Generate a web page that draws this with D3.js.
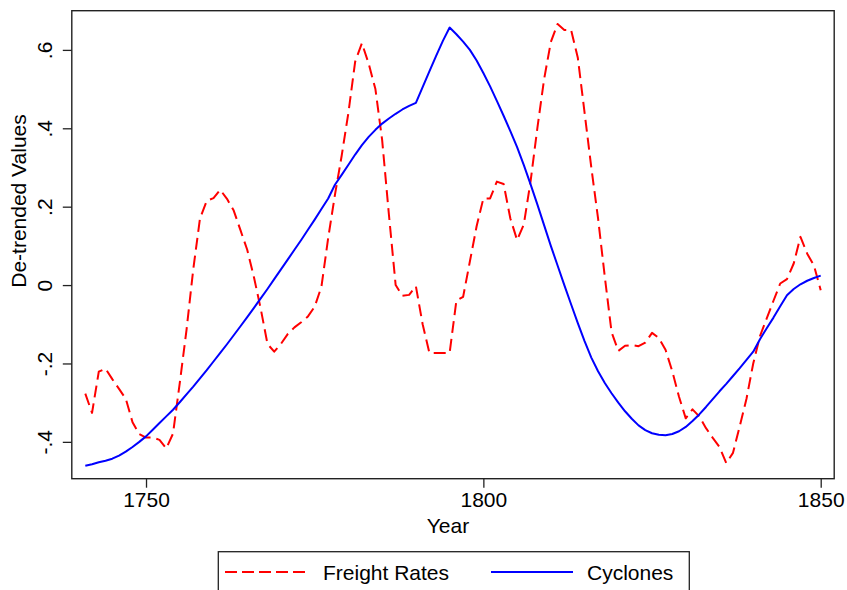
<!DOCTYPE html>
<html>
<head>
<meta charset="utf-8">
<script src="https://cdn.jsdelivr.net/npm/d3@7"></script>
<style>
  html, body { margin: 0; padding: 0; background: #fff; }
  svg { display: block; font-family: Arial, "Liberation Sans", sans-serif; }
</style>
</head>
<body>
<svg id="chart" width="847" height="590"></svg>
<script>
// Annual series, 1741..1850.
const YEARS = d3.range(1741, 1851);

const FREIGHT = [
  -0.277, -0.326, -0.221, -0.213, -0.240, -0.265, -0.290, -0.350, -0.380, -0.389, // 1741-1750
  -0.389, -0.395, -0.417, -0.379, -0.250, -0.115,  0.040,  0.170,  0.215,  0.222, // 1751-1760
   0.243,  0.220,  0.190,  0.140,  0.090,  0.020, -0.060, -0.150, -0.170, -0.150, // 1761-1770
  -0.125, -0.108, -0.095, -0.080, -0.055, -0.004,  0.120,  0.230,  0.330,  0.440, // 1771-1780
   0.570,  0.617,  0.565,  0.500,  0.370,  0.180,  0.000, -0.027, -0.025, -0.003, // 1781-1790
  -0.100, -0.173, -0.173, -0.173, -0.173, -0.040, -0.030,  0.060,  0.150,  0.221, // 1791-1800
   0.221,  0.264,  0.258,  0.170,  0.115,  0.155,  0.265,  0.400,  0.525,  0.620, // 1801-1810
   0.666,  0.651,  0.651,  0.580,  0.440,  0.300,  0.170,  0.021, -0.120, -0.168, // 1811-1820
  -0.155, -0.153, -0.156, -0.147, -0.122, -0.135, -0.165, -0.220, -0.285, -0.340, // 1821-1830
  -0.317, -0.335, -0.365, -0.390, -0.413, -0.454, -0.428, -0.360, -0.290, -0.200, // 1831-1840
  -0.130, -0.085, -0.040,  0.004,  0.015,  0.055,  0.123,  0.080,  0.050, -0.013, // 1841-1850
];

const CYCLONES = [
  -0.461, -0.457, -0.452, -0.448, -0.443, -0.435, -0.425, -0.413, -0.400, -0.386, // 1741-1750
  -0.369, -0.352, -0.335, -0.318, -0.299, -0.279, -0.259, -0.238, -0.217, -0.195, // 1751-1760
  -0.173, -0.151, -0.128, -0.105, -0.082, -0.058, -0.034, -0.010,  0.015,  0.040, // 1761-1770
   0.065,  0.090,  0.115,  0.141,  0.167,  0.194,  0.221,  0.256,  0.281,  0.307, // 1771-1780
   0.333,  0.357,  0.378,  0.396,  0.412,  0.425,  0.437,  0.448,  0.457,  0.465, // 1781-1790
   0.505,  0.545,  0.585,  0.623,  0.657,  0.640,  0.621,  0.600,  0.573,  0.541, // 1791-1800
   0.507,  0.470,  0.432,  0.393,  0.352,  0.306,  0.257,  0.206,  0.153,  0.100, // 1801-1810
   0.050,  0.000, -0.049, -0.097, -0.143, -0.185, -0.220, -0.250, -0.276, -0.300, // 1811-1820
  -0.322, -0.341, -0.358, -0.370, -0.378, -0.382, -0.383, -0.380, -0.373, -0.362, // 1821-1830
  -0.347, -0.330, -0.311, -0.291, -0.271, -0.252, -0.232, -0.212, -0.191, -0.170, // 1831-1840
  -0.138, -0.110, -0.083, -0.054, -0.026, -0.010,  0.002,  0.011,  0.018,  0.024, // 1841-1850
];

const X_TICKS = [1750, 1800, 1850];
const Y_TICKS = [-0.4, -0.2, 0, 0.2, 0.4, 0.6];
const SERIES_NAMES = ["Freight Rates", "Cyclones"];

// -------------------------------------------------------------------------
// Layout. Plot frame edges measured from the reference (Stata-style box).
// -------------------------------------------------------------------------
const FRAME = { left: 71.8, right: 834.2, top: 10.7, bottom: 478.7 };
const FONT = 21;

const svg = d3.select("#chart");

const x = d3.scaleLinear().domain([1739, 1852]).range([FRAME.left, FRAME.right]);
const y = d3.scaleLinear().domain([-0.494, 0.7]).range([FRAME.bottom, FRAME.top]);

// Stata drops the leading zero: ".6", "-.2", "0". Plain hyphen minus,
// not d3's default U+2212.
const fmt1 = d3.formatLocale({
  decimal: ".", thousands: ",", grouping: [3], currency: ["", ""], minus: "-",
}).format(".1f");

function stataFmt(v) {
  if (Math.abs(v) < 1e-9) return "0";
  return fmt1(v).replace(/^(-?)0\./, "$1.");
}

// -------------------------------------------------------------------------
// Lines
// -------------------------------------------------------------------------
const line = d3.line()
  .x(d => x(d[0]))
  .y(d => y(d[1]));

const freightPts = YEARS.map((yr, i) => [yr, FREIGHT[i]]);
const cyclonePts = YEARS.map((yr, i) => [yr, CYCLONES[i]]);

svg.append("path")
  .attr("d", line(freightPts))
  .attr("fill", "none")
  .attr("stroke", "#ff0000")
  .attr("stroke-width", 2)
  .attr("stroke-dasharray", "12,6")
  .attr("stroke-linejoin", "round");

svg.append("path")
  .attr("d", line(cyclonePts))
  .attr("fill", "none")
  .attr("stroke", "#0000ff")
  .attr("stroke-width", 2)
  .attr("stroke-linejoin", "round");

// -------------------------------------------------------------------------
// Frame + axes
// -------------------------------------------------------------------------
svg.append("rect")
  .attr("x", FRAME.left)
  .attr("y", FRAME.top)
  .attr("width", FRAME.right - FRAME.left)
  .attr("height", FRAME.bottom - FRAME.top)
  .attr("fill", "none")
  .attr("stroke", "#222")
  .attr("stroke-width", 1.4);

const xAxis = d3.axisBottom(x)
  .tickValues(X_TICKS)
  .tickSize(9)
  .tickPadding(4)
  .tickFormat(d3.format("d"));

const gx = svg.append("g")
  .attr("transform", `translate(0,${FRAME.bottom})`)
  .call(xAxis);
gx.select(".domain").remove();
gx.selectAll(".tick line").attr("stroke", "#222").attr("stroke-width", 1.3);
gx.selectAll(".tick text")
  .attr("font-size", FONT)
  .attr("font-family", "Arial, 'Liberation Sans', sans-serif")
  .attr("fill", "#000");

const yAxis = d3.axisLeft(y)
  .tickValues(Y_TICKS)
  .tickSize(9)
  .tickFormat(stataFmt);

const gy = svg.append("g")
  .attr("transform", `translate(${FRAME.left},0)`)
  .call(yAxis);
gy.select(".domain").remove();
gy.selectAll(".tick line").attr("stroke", "#222").attr("stroke-width", 1.3);
// Rotated tick labels, reading bottom-to-top like the original.
gy.selectAll(".tick text")
  .attr("x", null)
  .attr("dy", null)
  .attr("text-anchor", "middle")
  .attr("transform", "translate(-20,0) rotate(-90)")
  .attr("font-size", FONT)
  .attr("font-family", "Arial, 'Liberation Sans', sans-serif")
  .attr("fill", "#000");

// Axis titles
svg.append("text")
  .attr("x", (FRAME.left + FRAME.right) / 2 - 5)
  .attr("y", 533)
  .attr("text-anchor", "middle")
  .attr("font-size", FONT)
  .text("Year");

svg.append("text")
  .attr("transform", "translate(26,201) rotate(-90)")
  .attr("text-anchor", "middle")
  .attr("font-size", FONT)
  .text("De-trended Values");

// -------------------------------------------------------------------------
// Legend (box runs off the bottom of the image in the reference)
// -------------------------------------------------------------------------
const legend = svg.append("g");
legend.append("rect")
  .attr("x", 218.3)
  .attr("y", 551.7)
  .attr("width", 471)
  .attr("height", 46)
  .attr("fill", "#fff")
  .attr("stroke", "#222")
  .attr("stroke-width", 1.3);

const legendItems = [
  { name: SERIES_NAMES[0], color: "#ff0000", dash: "12,5", x0: 225, x1: 308, tx: 323 },
  { name: SERIES_NAMES[1], color: "#0000ff", dash: null, x0: 491, x1: 573, tx: 587 },
];

legendItems.forEach(it => {
  legend.append("line")
    .attr("x1", it.x0).attr("x2", it.x1)
    .attr("y1", 572).attr("y2", 572)
    .attr("stroke", it.color)
    .attr("stroke-width", 2)
    .attr("stroke-dasharray", it.dash);
  legend.append("text")
    .attr("x", it.tx)
    .attr("y", 580)
    .attr("font-size", FONT)
    .text(it.name);
});
</script>
</body>
</html>
